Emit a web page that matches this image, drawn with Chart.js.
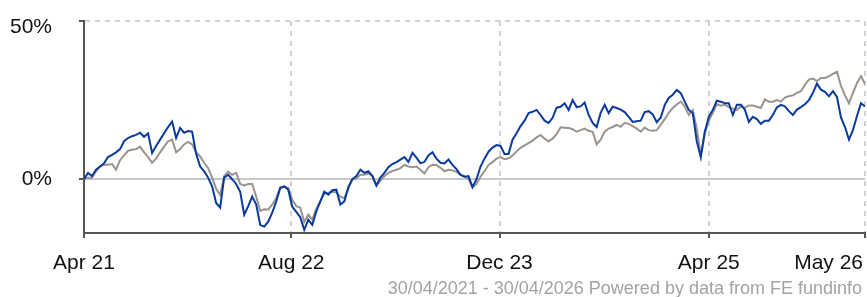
<!DOCTYPE html>
<html>
<head>
<meta charset="utf-8">
<script src="https://cdn.jsdelivr.net/npm/chart.js@4.4.0/dist/chart.umd.min.js"></script>
<style>
  body { margin: 0; background: #fff; }
  #wrap { position: relative; width: 867px; height: 297px; }
  #note {
    position: absolute; right: 5px; top: 278px;
    font: 18px "Liberation Sans", Arial, sans-serif; color: #a3a3a3;
    white-space: nowrap; line-height: 20px;
  }
</style>
</head>
<body>
<div id="wrap">
  <canvas id="myChart" width="867" height="297"></canvas>
  <div id="note">30/04/2021 - 30/04/2026 Powered by data from FE fundinfo</div>
</div>
<script>
// cumulative performance, % (one value every ~9 days, 30/04/2021 - 30/04/2026)
const fundValues = [
  0, 2, 1, 3, 4, 5, 7, 7.7, 8.5, 9.5,
  12, 13, 13.6, 14, 14.7, 13.4, 14.5, 8.3, 10.5, 12.5,
  14.5, 16.5, 18.2, 13, 16.2, 14.7, 15.2, 15, 8, 4,
  2.5, 0.5, -2.3, -7.5, -9, 0.5, 1.4, 0, -1.5, -4,
  -11.2, -8.5, -5.5, -8, -14.5, -15, -13.4, -10.6, -7, -2.8,
  -2.3, -3.3, -8.7, -10.3, -12, -16, -12.8, -14.4, -10.2, -7,
  -3.9, -4.9, -3.5, -3.3, -8, -7, -2.5, 0, 1, 3,
  2, 2.5, 1, -2, 0.5, 2, 3.8, 4.8, 5.4, 6.2,
  7, 5.5, 8.3, 6.8, 5, 5.5, 7.5, 8.5, 6.5, 5.2,
  5, 6.2, 4.5, 3.2, 1.4, 0.8, 1, -2.5, 0, 4,
  6.5, 8.7, 10, 10.8, 10.5, 8, 8, 12.5, 14.5, 16.8,
  18.5, 20.9, 21.3, 21.9, 20.3, 18.5, 17.8, 19.4, 22.6, 22.9,
  24, 21.9, 25, 22.8, 23, 24.2, 20.3, 17.8, 16.5, 21,
  23.5, 20.9, 22.9, 22.5, 22, 21.2, 19.7, 18.1, 18.3, 18.5,
  21.2, 21.5, 20.5, 18, 19.5, 23.5, 25.7, 26.7, 28.2, 27.2,
  24.5, 21.9, 20.9, 12, 7, 15, 19.7, 21.9, 24.8, 24.5,
  24, 24, 20.3, 23.5, 23.5, 22, 18.1, 19.7, 19, 17.5,
  18.5, 18.5, 20.3, 22.7, 23.5, 23, 21.5, 20.3, 22, 22.8,
  23.7, 25, 27.3, 30.2, 28.3, 27.6, 26.2, 27.8, 26, 19.5,
  16.5, 12.5, 15.6, 20, 24, 23
];
const sectorValues = [
  0, 0.5, 0.5, 2.5, 4, 4.6, 4.6, 4.8, 3, 6,
  7.5, 9, 9.3, 9.5, 10.3, 8.5, 7, 5.2, 6.5, 8.5,
  10.3, 12, 12.5, 8.5, 9.5, 11, 11.8, 11, 8.5, 7.2,
  5.2, 3.5, 0.5, -3, -5, 1, 2.4, 1.4, 2, -1.5,
  -2, -1.5, -1.5, -5.5, -10, -9.5, -9.6, -8, -6, -2.5,
  -2.3, -2.8, -6.5, -8.5, -9, -13.5, -11.2, -12.8, -9.3, -7,
  -4.6, -4.3, -4, -4.2, -5.5, -6, -3, 0, 0.3, 1.4,
  1.4, 1.8, 1.2, -2, -0.5, 1, 2, 2.6, 3, 3.5,
  4.5, 4, 3.8, 4, 3, 1.8, 3.8, 4.6, 4.5, 3.6,
  2.5, 3, 2.8, 2.3, 1.4, 0.9, 0, -2.5, -1.5, 0.8,
  2.5, 4.5, 5.4, 6.5, 7, 6.3, 6.6, 7.5, 8.8, 9.9,
  10.7, 11.4, 12.2, 13.2, 14, 12.8, 12, 12.8, 14.2, 16.4,
  16.3, 16.2, 15.8, 15, 15.5, 16, 15.3, 15, 11, 12.5,
  15, 16, 16.5, 17.2, 16.6, 17.8, 17.5, 16.8, 16, 15,
  16.3, 15.5, 15.3, 15.5, 17.2, 19, 21, 22.5, 23.6, 24.5,
  23, 20.3, 21.9, 16, 7.5, 14.5, 18.5, 21, 23.7, 23.2,
  23.6, 22.8, 22.3, 21.9, 23, 22.6, 23.3, 23.3, 22.9, 22.5,
  25.2, 24.5, 24.5, 25, 24.5, 25.8, 26.2, 26.5, 27.3, 27.8,
  29.8, 31.5, 31.8, 31, 32, 32, 32.6, 33.3, 34, 29.5,
  26.5, 24, 27.3, 30.4, 32.6, 30
];
const tickPositions = [0, 51.75, 103.75, 156, 195];
const tickLabels = ['Apr 21', 'Aug 22', 'Dec 23', 'Apr 25', 'May 26'];
const yTicks = [0, 50];

const FONT = '21px "Liberation Sans", Arial, sans-serif';

const labelPlugin = {
  id: 'labels',
  afterDraw(chart) {
    const { ctx, chartArea, scales } = chart;
    ctx.save();
    ctx.font = FONT;
    ctx.fillStyle = '#111';
    ctx.textBaseline = 'middle';
    // x labels, last one kept inside the canvas
    tickPositions.forEach((p, i) => {
      let px = scales.x.getPixelForValue(p);
      ctx.textAlign = 'center';
      if (i === tickPositions.length - 1) {
        ctx.textAlign = 'right';
        px = chartArea.right - 2;
      }
      ctx.fillText(tickLabels[i], px, chartArea.bottom + 30);
    });
    // y labels
    ctx.textAlign = 'right';
    yTicks.forEach(v => {
      let py = scales.y.getPixelForValue(v);
      py = Math.max(py, chartArea.top + 6);
      ctx.fillText(v + '%', 52, py);
    });
    ctx.restore();
  }
};

const ctx = document.getElementById('myChart');
new Chart(ctx, {
  type: 'line',
  data: {
    datasets: [
      {
        label: 'Fund',
        data: fundValues.map((v, i) => ({ x: i, y: v })),
        borderColor: '#0a3a9e',
        borderWidth: 2,
        pointRadius: 0,
        tension: 0,
      },
      {
        label: 'Sector',
        data: sectorValues.map((v, i) => ({ x: i, y: v })),
        borderColor: '#9b938e',
        borderWidth: 2,
        pointRadius: 0,
        tension: 0,
      },
    ],
  },
  options: {
    responsive: false,
    animation: false,
    layout: { padding: { top: 21, right: 2, left: 0, bottom: 0 } },
    plugins: { legend: { display: false }, tooltip: { enabled: false } },
    scales: {
      x: {
        type: 'linear',
        min: 0,
        max: 195,
        afterBuildTicks: scale => { scale.ticks = tickPositions.map(v => ({ value: v })); },
        afterFit: scale => { scale.height = 64; },
        ticks: { display: false },
        grid: {
          color: '#d2d2d2',
          lineWidth: 2,
          tickLength: 5,
          tickColor: '#555',
          tickWidth: 2,
          tickBorderDash: [],
        },
        border: { color: '#555', width: 2, dash: [5, 5] },
      },
      y: {
        min: -17,
        max: 50,
        afterBuildTicks: scale => { scale.ticks = yTicks.map(v => ({ value: v })); },
        afterFit: scale => { scale.width = 84; },
        ticks: { display: false },
        grid: {
          color: c => (c.tick && c.tick.value === 0 ? '#c8c8c8' : '#d2d2d2'),
          lineWidth: 2,
          tickLength: 5,
          tickColor: '#555',
          tickWidth: 2,
          tickBorderDash: [],
        },
        border: {
          color: '#555',
          width: 2,
          dash: c => (c.tick && c.tick.value === 0 ? [] : [5, 5]),
        },
      },
    },
  },
  plugins: [labelPlugin],
});
</script>
</body>
</html>
